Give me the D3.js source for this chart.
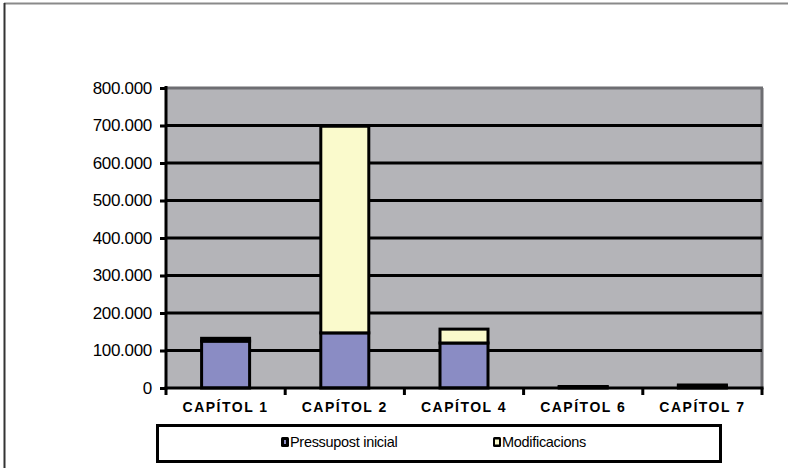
<!DOCTYPE html>
<html><head><meta charset="utf-8">
<script src="https://cdn.jsdelivr.net/npm/d3@7"></script>
<style>body{margin:0;background:#fff}svg{display:block}</style>
</head><body>
<svg id="c" width="788" height="468"></svg>
<script>
const categories = ["CAPÍTOL 1","CAPÍTOL 2","CAPÍTOL 4","CAPÍTOL 6","CAPÍTOL 7"];
const pressupostInicial = [125000,147000,120000,2500,5500];
const modificacions = [7500,551000,37000,1500,2500];
const yTicks = [0,100000,200000,300000,400000,500000,600000,700000,800000];
const seriesNames = ["Pressupost inicial","Modificacions"];
const colors = ["#8a8cc4","#fafacc"];

const svg = d3.select("#c");
// outer frame
svg.append("line").attr("x1",4).attr("x2",788).attr("y1",3.5).attr("y2",3.5).attr("stroke","#8a8a8a").attr("stroke-width",2);
svg.append("line").attr("x1",4.5).attr("x2",4.5).attr("y1",3).attr("y2",468).attr("stroke","#333").attr("stroke-width",2);

const L=166,R=762,T=88,B=388;
const x = d3.scaleBand().domain(categories).range([L,R]).paddingInner(0).paddingOuter(0);
const y = d3.scaleLinear().domain([0,800000]).range([B,T]);

svg.append("rect").attr("x",L).attr("y",T).attr("width",R-L).attr("height",B-T).attr("fill","#b4b4b8");
svg.append("line").attr("x1",L).attr("x2",R+1).attr("y1",T).attr("y2",T).attr("stroke","#6e6e72").attr("stroke-width",3);
svg.append("line").attr("x1",R).attr("x2",R).attr("y1",T).attr("y2",B).attr("stroke","#6e6e72").attr("stroke-width",3);

// gridlines
svg.append("g").selectAll("line").data(yTicks.filter(d=>d>0 && d<800000)).join("line")
  .attr("x1",L).attr("x2",R).attr("y1",d=>y(d)).attr("y2",d=>y(d)).attr("stroke","#000").attr("stroke-width",3);

// bars
const data = categories.map((c,i)=>({c, a:pressupostInicial[i], b:modificacions[i]}));
const bw = 48;
const g = svg.append("g");
data.forEach(d=>{
  const cx = x(d.c)+x.bandwidth()/2;
  g.append("rect").attr("x",cx-bw/2).attr("width",bw).attr("y",y(d.a)).attr("height",y(0)-y(d.a))
    .attr("fill",colors[0]).attr("stroke","#000").attr("stroke-width",3);
  g.append("rect").attr("x",cx-bw/2).attr("width",bw).attr("y",y(d.a+d.b)).attr("height",y(d.a)-y(d.a+d.b))
    .attr("fill",colors[1]).attr("stroke","#000").attr("stroke-width",3);
});

// y axis
const ya = svg.append("g").attr("transform",`translate(${L},0)`)
  .call(d3.axisLeft(y).tickValues(yTicks).tickSize(6).tickPadding(8)
    .tickFormat(d=>d===0?"0":d3.format(",")(d).replace(/,/g,".")));
ya.select(".domain").attr("stroke","#000").attr("stroke-width",3).attr("d",`M0,${T-2}V${B+1.5}`);
ya.selectAll(".tick line").attr("stroke","#000").attr("stroke-width",3);
ya.selectAll("text").attr("font-family","Liberation Sans, Arial, sans-serif").attr("font-size",17)
  .attr("letter-spacing","-0.3px").attr("fill","#000");

// x axis
const xa = svg.append("g").attr("transform",`translate(0,${B})`)
  .call(d3.axisBottom(x).tickSize(0).tickPadding(14));
xa.select(".domain").attr("stroke","#000").attr("stroke-width",3).attr("d",`M${L-1.5},0H${R+1.5}`);
xa.selectAll("text").attr("font-family","Liberation Sans, Arial, sans-serif").attr("font-size",14)
  .attr("letter-spacing","1.5px").attr("font-weight","bold").attr("fill","#000");
// category boundary ticks
svg.append("g").selectAll("line").data(categories.map(c=>x(c)).concat([R])).join("line")
  .attr("x1",d=>d).attr("x2",d=>d).attr("y1",B).attr("y2",B+7).attr("stroke","#000").attr("stroke-width",3);

// legend
svg.append("rect").attr("x",157.5).attr("y",425.5).attr("width",563).attr("height",36)
  .attr("fill","#fff").attr("stroke","#000").attr("stroke-width",3);
const legX=[281,493];
seriesNames.forEach((n,i)=>{
  const lg = svg.append("g").attr("transform",`translate(${legX[i]},437)`);
  lg.append("rect").attr("x",0).attr("y",0).attr("width",8).attr("height",10).attr("rx",1.5).attr("fill","#000");
  lg.append("rect").attr("x",i?2:3).attr("y",i?2.5:3).attr("width",i?4:2).attr("height",i?5:4).attr("fill",colors[i]);
  lg.append("text").attr("x",9).attr("y",10).attr("font-family","Liberation Sans, Arial, sans-serif")
    .attr("font-size",14.5).attr("letter-spacing","-0.3px").attr("fill","#000").text(n);
});
</script>
</body></html>
